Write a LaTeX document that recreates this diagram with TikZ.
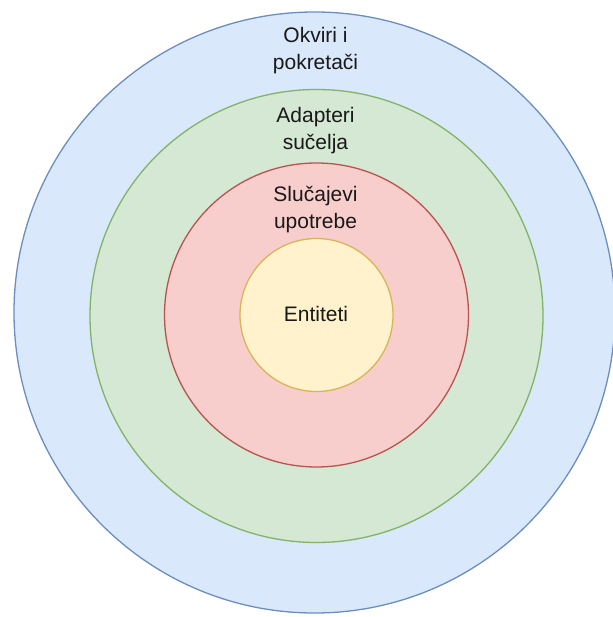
\documentclass[tikz,border=0pt]{standalone}
\usepackage{fontspec}
\setmainfont{Liberation Sans}
\definecolor{bfill}{HTML}{DAE8FC}\definecolor{bdraw}{HTML}{6C8EBF}
\definecolor{gfill}{HTML}{D5E8D4}\definecolor{gdraw}{HTML}{82B366}
\definecolor{rfill}{HTML}{F8CECC}\definecolor{rdraw}{HTML}{B85450}
\definecolor{yfill}{HTML}{FFF2CC}\definecolor{ydraw}{HTML}{D6B656}
\begin{document}
\begin{tikzpicture}[x=1pt,y=-1pt,
  ring/.style={circle,line width=1.3pt,inner sep=0pt},
  lbl/.style={font=\fontsize{21}{27}\selectfont,align=center,text=black!90,inner sep=0pt}]
\useasboundingbox (0,0) rectangle (612,617);
\node[ring,fill=bfill,draw=bdraw,minimum size=601pt] (outer) at (314.5,312.5) {};
\node[ring,fill=gfill,draw=gdraw,minimum size=453pt] (green) at (316.5,316) {};
\node[ring,fill=rfill,draw=rdraw,minimum size=304pt] (red) at (316.5,315) {};
\node[ring,fill=yfill,draw=ydraw,minimum size=153pt] (yellow) at (316.5,315) {};
\node[lbl] (t1) at (315.5,51) {Okviri i\\pokretači};
\node[lbl] (t2) at (315.5,130.5) {Adapteri\\sučelja};
\node[lbl] (t3) at (315.5,209.5) {Slučajevi\\upotrebe};
\node[lbl] (t4) at (316,314.4) {Entiteti};
\end{tikzpicture}
\end{document}
